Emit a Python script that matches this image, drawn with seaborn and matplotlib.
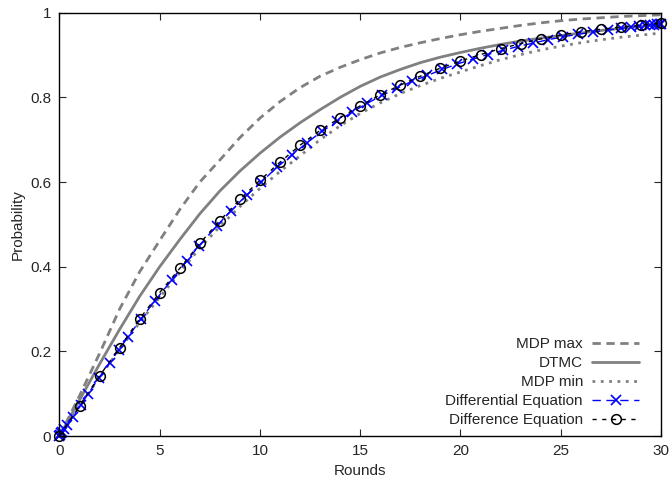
import matplotlib
matplotlib.use("Agg")
import matplotlib.pyplot as plt
import seaborn as sns
import pandas as pd

# rounds for the smooth curves and the difference equation
rounds = list(range(31))

mdp_max = [0, 0.095, 0.195, 0.300, 0.388, 0.462, 0.535, 0.600, 0.652, 0.705,
           0.751, 0.790, 0.823, 0.850, 0.871, 0.889, 0.905, 0.918, 0.929, 0.939,
           0.948, 0.956, 0.963, 0.970, 0.976, 0.981, 0.985, 0.988, 0.991, 0.993, 0.995]

dtmc = [0, 0.085, 0.170, 0.252, 0.330, 0.400, 0.464, 0.525, 0.579, 0.626,
        0.668, 0.706, 0.740, 0.771, 0.800, 0.826, 0.848, 0.866, 0.882, 0.895,
        0.906, 0.916, 0.925, 0.933, 0.940, 0.946, 0.952, 0.958, 0.963, 0.968, 0.972]

mdp_min = [0, 0.070, 0.139, 0.205, 0.268, 0.328, 0.386, 0.444, 0.495, 0.542,
           0.585, 0.625, 0.662, 0.700, 0.733, 0.762, 0.787, 0.809, 0.828, 0.845,
           0.860, 0.875, 0.889, 0.901, 0.912, 0.921, 0.929, 0.936, 0.942, 0.947, 0.952]

difference = [0, 0.071, 0.142, 0.209, 0.277, 0.339, 0.396, 0.455, 0.509, 0.559,
              0.604, 0.647, 0.687, 0.722, 0.752, 0.780, 0.806, 0.829, 0.850, 0.869,
              0.886, 0.901, 0.915, 0.927, 0.938, 0.947, 0.955, 0.961, 0.966, 0.971, 0.975]

# differential equation solver output (uneven steps)
ode_t = [0, 0.04, 0.09, 0.15, 0.25, 0.4, 0.67, 1.05, 1.42, 1.95, 2.5, 2.95, 3.41,
         4.05, 4.74, 5.6, 6.34, 6.97, 7.84, 8.55, 9.33, 10.07, 10.85, 11.6, 12.35,
         13.1, 13.85, 14.6, 15.35, 16.1, 16.85, 17.6, 18.35, 19.1, 19.85, 20.6,
         21.35, 22.1, 22.85, 23.6, 24.35, 25.1, 25.85, 26.6, 27.35, 28.0, 28.5,
         28.9, 29.2, 29.45, 29.65, 29.82, 29.93, 30.0]
ode_p = [0, 0.003, 0.006, 0.010, 0.017, 0.027, 0.046, 0.073, 0.099, 0.136, 0.173,
         0.203, 0.233, 0.276, 0.318, 0.369, 0.413, 0.450, 0.496, 0.532, 0.569,
         0.600, 0.635, 0.664, 0.693, 0.720, 0.743, 0.765, 0.786, 0.805, 0.822,
         0.838, 0.852, 0.866, 0.879, 0.890, 0.901, 0.911, 0.920, 0.928, 0.936,
         0.943, 0.949, 0.954, 0.959, 0.963, 0.966, 0.968, 0.970, 0.971, 0.972,
         0.973, 0.974, 0.974]

curves = pd.DataFrame({"round": rounds, "mdp_max": mdp_max, "dtmc": dtmc,
                       "mdp_min": mdp_min, "difference": difference})
ode = pd.DataFrame({"t": ode_t, "p": ode_p})

sns.set_style("ticks")
plt.rcParams["font.family"] = ["Liberation Sans", "DejaVu Sans"]
plt.rcParams["xtick.direction"] = "in"
plt.rcParams["ytick.direction"] = "in"

fig = plt.figure(figsize=(6.72, 4.83), dpi=100)
ax = fig.add_axes([0.0885, 0.0973, 0.8951, 0.8764])

grey = "#808080"
blue = "#0000ff"
sns.lineplot(data=curves, x="round", y="mdp_max", ax=ax, color=grey, lw=2,
             linestyle=(0, (3, 2)), label="MDP max")
sns.lineplot(data=curves, x="round", y="dtmc", ax=ax, color=grey, lw=2,
             label="DTMC")
sns.lineplot(data=curves, x="round", y="mdp_min", ax=ax, color=grey, lw=2,
             linestyle=(0, (1, 2)), label="MDP min")
sns.lineplot(data=ode, x="t", y="p", ax=ax, color=blue, lw=1,
             linestyle=(0, (6, 4)), marker="x", ms=7, mew=1.2, mec=blue,
             label="Differential Equation", clip_on=False)
sns.lineplot(data=curves, x="round", y="difference", ax=ax, color="black", lw=1,
             linestyle=(0, (3, 4)), marker="o", ms=7, mfc="none", mec="black",
             mew=1.1, label="Difference Equation", clip_on=False)

ax.set_xlim(0, 30)
ax.set_ylim(0, 1)
ax.set_xticks([0, 5, 10, 15, 20, 25, 30])
ax.set_yticks([0, 0.2, 0.4, 0.6, 0.8, 1])
ax.set_yticklabels(["0", "0.2", "0.4", "0.6", "0.8", "1"])
ax.tick_params(top=True, right=True, labelsize=11, length=5, width=0.8, pad=6)
for s in ax.spines.values():
    s.set_linewidth(1)
    s.set_color("black")

ax.set_xlabel("Rounds", fontsize=11)
ax.set_ylabel("Probability", fontsize=11)

ax.legend(loc="lower right", bbox_to_anchor=(0.987, -0.012), frameon=False,
          markerfirst=False, handlelength=3.1, numpoints=1, fontsize=11,
          labelspacing=0.33, handletextpad=0.6)

fig.savefig("out.png", dpi=100)
